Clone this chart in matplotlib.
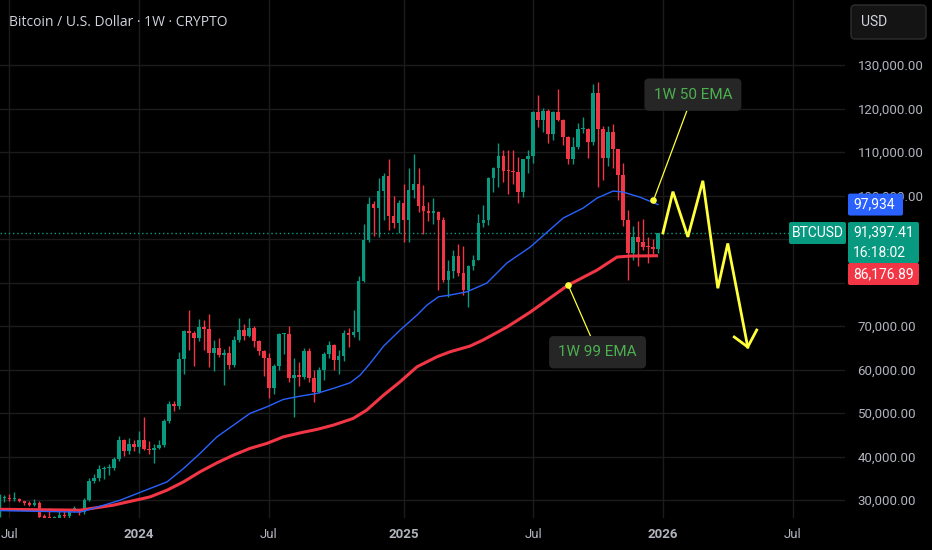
import matplotlib
matplotlib.use('Agg')
import matplotlib.pyplot as plt
import matplotlib.transforms as mtransforms
from matplotlib.patches import FancyBboxPatch
import numpy as np

# weekly candles, week 0 = week of 1 Jan 2024 (values in thousand USD)
weeks = np.arange(-28, 105)
opens = [26.3, 30.5, 30.6, 30.2, 30.3, 29.9, 29.3, 29.0, 29.3, 26.1, 26.0, 25.8, 25.9, 26.5, 26.3, 27.9, 27.95,
         27.2, 30.0, 34.5, 35.0, 37.1, 37.4, 37.5, 39.5, 43.8, 41.4, 43.0,
         42.3, 43.9, 41.7, 41.6, 42.0, 42.6, 48.3, 52.1, 51.7, 62.4, 68.9, 68.4, 67.2, 69.7, 69.4, 63.9, 64.9,
         63.4, 63.9, 61.0, 66.9, 69.0, 67.8, 69.6, 66.6, 64.2, 62.7, 55.8, 60.8, 68.2, 68.3, 58.1, 58.7, 58.4,
         64.2, 58.0, 54.8, 60.0, 63.6, 65.6, 62.1, 63.2, 68.4, 68.0, 68.7, 80.4, 89.8, 98.0, 97.2, 101.1, 104.4,
         95.2, 93.7, 98.3, 94.5, 101.3, 102.6, 97.7, 96.5, 96.1, 96.3, 94.3, 80.7, 82.6, 86.1, 82.3, 78.4, 83.8,
         85.2, 93.8, 94.3, 104.1, 106.4, 109.0, 105.7, 105.6, 105.5, 100.9, 108.4, 109.2, 119.1, 117.3, 119.4,
         114.2, 119.3, 117.4, 113.5, 108.3, 111.1, 115.3, 115.4, 112.2, 123.5, 115.2, 108.6, 114.5, 110.6, 104.7,
         94.3, 86.8, 90.4, 89.4, 88.2, 88.1, 87.8]
highs = [31.4, 31.3, 31.5, 31.8, 30.4, 29.9, 29.7, 30.2, 29.7, 26.8, 28.1, 26.4, 27.4, 27.5, 28.0, 28.6, 27.95,
         30.4, 35.2, 35.9, 38.0, 37.9, 38.4, 39.9, 44.7, 44.0, 44.3, 43.8,
         45.9, 49.0, 43.6, 42.8, 43.9, 48.6, 52.8, 52.9, 64.0, 69.2, 73.8, 68.9, 71.7, 71.3, 72.8, 66.9, 67.2,
         64.7, 65.5, 67.7, 71.9, 70.6, 71.9, 70.1, 66.9, 64.5, 63.8, 61.4, 68.4, 68.5, 70.1, 62.7, 61.8, 65.0,
         64.9, 59.8, 60.6, 64.1, 66.5, 66.0, 64.5, 69.0, 69.5, 73.6, 81.5, 93.5, 99.6, 98.7, 104.0, 105.3, 108.3,
         99.9, 99.0, 102.7, 106.4, 109.6, 106.4, 102.5, 98.5, 99.5, 96.5, 95.0, 85.3, 87.5, 88.8, 88.5, 84.0,
         86.4, 95.8, 97.9, 104.3, 106.6, 112.0, 110.4, 110.5, 110.4, 108.9, 108.5, 110.5, 119.5, 123.2, 120.2,
         119.8, 119.4, 124.5, 117.6, 113.6, 113.4, 116.7, 118.0, 115.5, 125.7, 126.2, 115.9, 116.0, 116.4, 110.8,
         107.5, 96.6, 93.1, 94.2, 94.6, 90.4, 90.0, 91.5]
lows = [26.2, 29.5, 29.7, 29.9, 29.5, 29.0, 28.6, 28.7, 25.2, 25.8, 25.4, 25.4, 24.9, 26.0, 26.0, 27.2, 26.5,
        26.8, 29.8, 33.9, 34.5, 34.8, 35.7, 36.9, 39.0, 40.2, 40.5, 41.3,
        40.8, 41.5, 40.6, 38.5, 41.8, 42.3, 47.7, 50.6, 50.9, 59.0, 64.5, 60.8, 66.5, 64.5, 60.7, 59.6, 62.8,
        56.5, 60.2, 60.7, 66.3, 66.7, 67.6, 65.1, 63.4, 58.5, 53.5, 54.3, 59.8, 63.5, 57.2, 49.0, 56.2, 57.8,
        57.1, 52.6, 54.6, 57.6, 62.7, 59.9, 58.9, 62.0, 65.1, 67.5, 66.8, 80.2, 89.4, 90.8, 90.5, 94.3, 92.2,
        92.6, 91.5, 89.3, 89.3, 99.5, 96.2, 91.2, 94.1, 93.4, 78.2, 80.1, 76.6, 81.1, 81.6, 77.1, 74.4,
        83.0, 85.1, 92.8, 93.3, 100.8, 102.0, 103.1, 100.4, 102.7, 98.2, 99.6, 105.3, 107.5, 115.7, 114.7,
        112.0, 112.7, 117.2, 111.7, 107.3, 107.3, 110.6, 114.4, 108.6, 111.6, 102.0, 103.5, 106.7, 106.3, 98.9,
        93.0, 80.6, 85.3, 83.8, 87.6, 84.4, 86.6, 86.9]
closes = [30.5, 30.6, 30.2, 30.3, 29.9, 29.3, 29.0, 29.3, 26.1, 26.0, 25.8, 25.9, 26.5, 26.3, 27.9, 27.95, 27.2,
          30.0, 34.5, 35.0, 37.1, 37.4, 37.5, 39.5, 43.8, 41.4, 43.0, 42.3,
          43.9, 41.7, 41.6, 42.0, 42.6, 48.3, 52.1, 51.7, 62.4, 68.9, 68.4, 67.2, 69.7, 69.4, 63.9, 64.9, 63.4,
          63.9, 61.0, 66.9, 69.0, 67.8, 69.6, 66.6, 64.2, 62.7, 55.8, 60.8, 68.2, 68.3, 58.1, 58.7, 58.4, 64.2,
          58.0, 54.8, 60.0, 63.6, 65.6, 62.1, 63.2, 68.4, 68.0, 68.7, 80.4, 89.8, 98.0, 97.2, 101.1, 104.4, 95.2,
          93.7, 98.3, 94.5, 101.3, 102.6, 97.7, 96.5, 96.1, 96.3, 94.3, 80.7, 82.6, 86.1, 82.3, 78.4, 83.8, 85.2,
          93.8, 94.3, 104.1, 106.4, 109.0, 105.7, 105.6, 105.5, 100.9, 108.4, 109.2, 119.1, 117.3, 119.4, 114.2,
          119.3, 117.4, 113.5, 108.3, 111.1, 115.3, 115.4, 112.2, 123.5, 115.2, 108.6, 114.5, 110.6, 104.7, 94.3,
          86.8, 90.4, 89.4, 88.2, 88.1, 87.8, 91.39741]

# 1W 50 EMA (blue) and 1W 99 EMA (red)
ema50_weeks = [-27.9, -11.8, -7.8, -3.8, 0.2, 2.2, 5.6, 8.9, 12.2, 15.6, 18.9, 22.2, 25.6, 28.9, 32.3, 35.6,
               38.9, 42.3, 44.3, 46.3, 49.0, 52.3, 55.7, 57.7, 60.0, 62.3, 65.7, 69.7, 73.7, 78.4, 81.8, 85.0,
               89.0, 91.8, 95.0, 97.0, 100.4, 104]
ema50_vals = [27600, 27250, 28600, 30000, 31800, 32690, 34210, 37290, 40740, 44550, 47240, 49930, 51450, 53150,
              53910, 54530, 55680, 56970, 58740, 61430, 65400, 69080, 72530, 74830, 76740, 77130, 77890, 79890,
              84490, 88170, 91610, 94830, 97130, 99430, 101040, 100810, 99640, 97934]
ema99_weeks = [-27.9, -11.8, -5.2, 0.2, 2.2, 5.6, 8.9, 12.2, 15.6, 18.9, 22.2, 25.6, 28.9, 32.3, 35.6, 38.9,
               42.9, 45.6, 49.0, 52.3, 55.7, 59.7, 62.3, 66.3, 68.9, 73.7, 78.4, 86.0, 91.8, 95.8, 98.4, 104]
ema99_vals = [27900, 27700, 28850, 30230, 30760, 32300, 34210, 36510, 38580, 40350, 41890, 43040, 44550, 45470,
              46250, 47240, 48780, 50690, 54140, 57200, 60650, 62950, 64090, 65400, 66780, 69770, 73220, 79430,
              82880, 85870, 86100, 86177]

# drawn projection (yellow zigzag) and arrow head
path_weeks = [105, 107, 110, 113, 116, 118, 122]
path_vals = [91400, 100900, 90500, 103400, 78700, 89000, 65200]
head_weeks = [119.3, 122, 123.8]
head_vals = [67500, 65200, 69100]

# notes
note50_at = (103.1, 98900)
note50_box = (111.0, 123200)
note99_at = (86.0, 79430)
note99_box = (91.9, 64000)

tick_weeks = [-26, 0, 26, 53, 79, 105, 131]
tick_labels = ['Jul', '2024', 'Jul', '2025', 'Jul', '2026', 'Jul']
price_ticks = list(range(30000, 140000, 10000))
hidden_ticks = [80000, 90000]  # covered by the price tags in the reference

last_price = 91397.41
ema50_last = 97934
ema99_last = 86176.89

UP = '#089981'
DOWN = '#f23645'
TXT = '#b2b5be'
YEL = '#ffff3b'

o = np.array(opens) * 1000
h = np.array(highs) * 1000
l = np.array(lows) * 1000
c = np.array(closes) * 1000
col = np.where(c >= o, UP, DOWN)

fig = plt.figure(figsize=(9.32, 5.5), dpi=100, facecolor='black')
ax = fig.add_axes([0, 32 / 550, 845 / 932, 518 / 550], facecolor='black')

# price/time grid
for v in price_ticks:
    ax.axhline(v, color='#1b1b1b', lw=1, zorder=0)
for t in tick_weeks:
    ax.axvline(t, color='#1b1b1b', lw=1, zorder=0)

# candles
ax.vlines(weeks, l, h, color=col, lw=1, zorder=2)
ax.bar(weeks, np.maximum(np.abs(c - o), 250), bottom=np.minimum(o, c), width=0.72, color=col, lw=0, zorder=3)

# EMAs
ax.plot(ema99_weeks, ema99_vals, color='#f23645', lw=2.2, zorder=4, solid_capstyle='butt')
ax.plot(ema50_weeks, ema50_vals, color='#2962ff', lw=1.0, zorder=4)

ax.axhline(last_price, color=UP, lw=1, ls=(0, (1, 2)), zorder=1)

# projection
ax.plot(path_weeks, path_vals, color=YEL, lw=2, zorder=5, solid_joinstyle='miter')
ax.plot(head_weeks, head_vals, color=YEL, lw=2, zorder=5, solid_joinstyle='miter')

# EMA notes
for txt, at, box in [('1W 50 EMA', note50_at, note50_box), ('1W 99 EMA', note99_at, note99_box)]:
    ax.annotate(txt, xy=at, xytext=box, ha='center', va='center', color='#4caf50', fontsize=11,
                family='Roboto', zorder=6,
                bbox=dict(boxstyle='round,pad=0.6,rounding_size=0.3', fc='#262626', ec='none'),
                arrowprops=dict(arrowstyle='-', color=YEL, lw=0.9, shrinkA=0, shrinkB=0))
    ax.scatter([at[0]], [at[1]], s=14, color=YEL, zorder=7)

ax.set_xlim(-27.9, 141.5)
ax.set_ylim(25900, 144950)

ax.yaxis.tick_right()
ax.set_yticks(price_ticks)
ax.set_yticklabels(['' if v in hidden_ticks else f'{v:,.2f}' for v in price_ticks], family='Roboto')
ax.set_xticks(tick_weeks)
ax.set_xticklabels(tick_labels, family='Roboto')
for lab in ax.get_xticklabels():
    if lab.get_text().isdigit():
        lab.set_fontweight('bold')
ax.tick_params(axis='y', length=0, pad=9, labelcolor=TXT, labelsize=9.5)
ax.tick_params(axis='x', length=0, pad=7, labelcolor=TXT, labelsize=9.5)
for s in ax.spines.values():
    s.set_visible(False)

fig.text(9 / 932, 1 - 22 / 550, 'Bitcoin / U.S. Dollar · 1W · CRYPTO', color='#d1d4dc', fontsize=10,
         family='Open Sans', va='center', ha='left')

# price scale tags (display pixels)
fig.canvas.draw()
ident = mtransforms.IdentityTransform()


def tag(x0, x1, ytop, hgt, color, lines, ha='left', r=2):
    fig.add_artist(FancyBboxPatch((x0, ytop - hgt), x1 - x0, hgt, boxstyle=f'round,pad=0,rounding_size={r}',
                                  fc=color, ec='none', transform=ident, zorder=10))
    step = hgt / len(lines)
    for k, s in enumerate(lines):
        tx = x0 + 5 if ha == 'left' else (x0 + x1) / 2
        fig.text(tx, ytop - step * (k + 0.5), s, color='white', fontsize=10, family='Roboto', ha=ha,
                 va='center', transform=ident, zorder=11)


H = 550
y50 = ax.transData.transform((0, ema50_last))[1]
ylast = ax.transData.transform((0, last_price))[1]
tag(848, 903, y50 + 11, 22, '#2962ff', [f'{ema50_last:,}'])
tag(789, 846, ylast + 11, 22, UP, ['BTCUSD'], ha='center')
tag(848, 919, ylast + 11, 41, UP, [f'{last_price:,.2f}', '16:18:02'])
tag(848, 919, ylast + 11 - 41, 22, DOWN, [f'{ema99_last:,.2f}'])

# currency button
fig.add_artist(FancyBboxPatch((851, H - 39), 75, 34, boxstyle='round,pad=0,rounding_size=4', fc='#141414',
                              ec='#2e2e2e', lw=1, transform=ident, zorder=10))
fig.text(861, H - 22, 'USD', color='#d1d4dc', fontsize=10, family='Roboto', va='center', transform=ident,
         zorder=11)

fig.savefig('out.png', dpi=100, facecolor='black')
